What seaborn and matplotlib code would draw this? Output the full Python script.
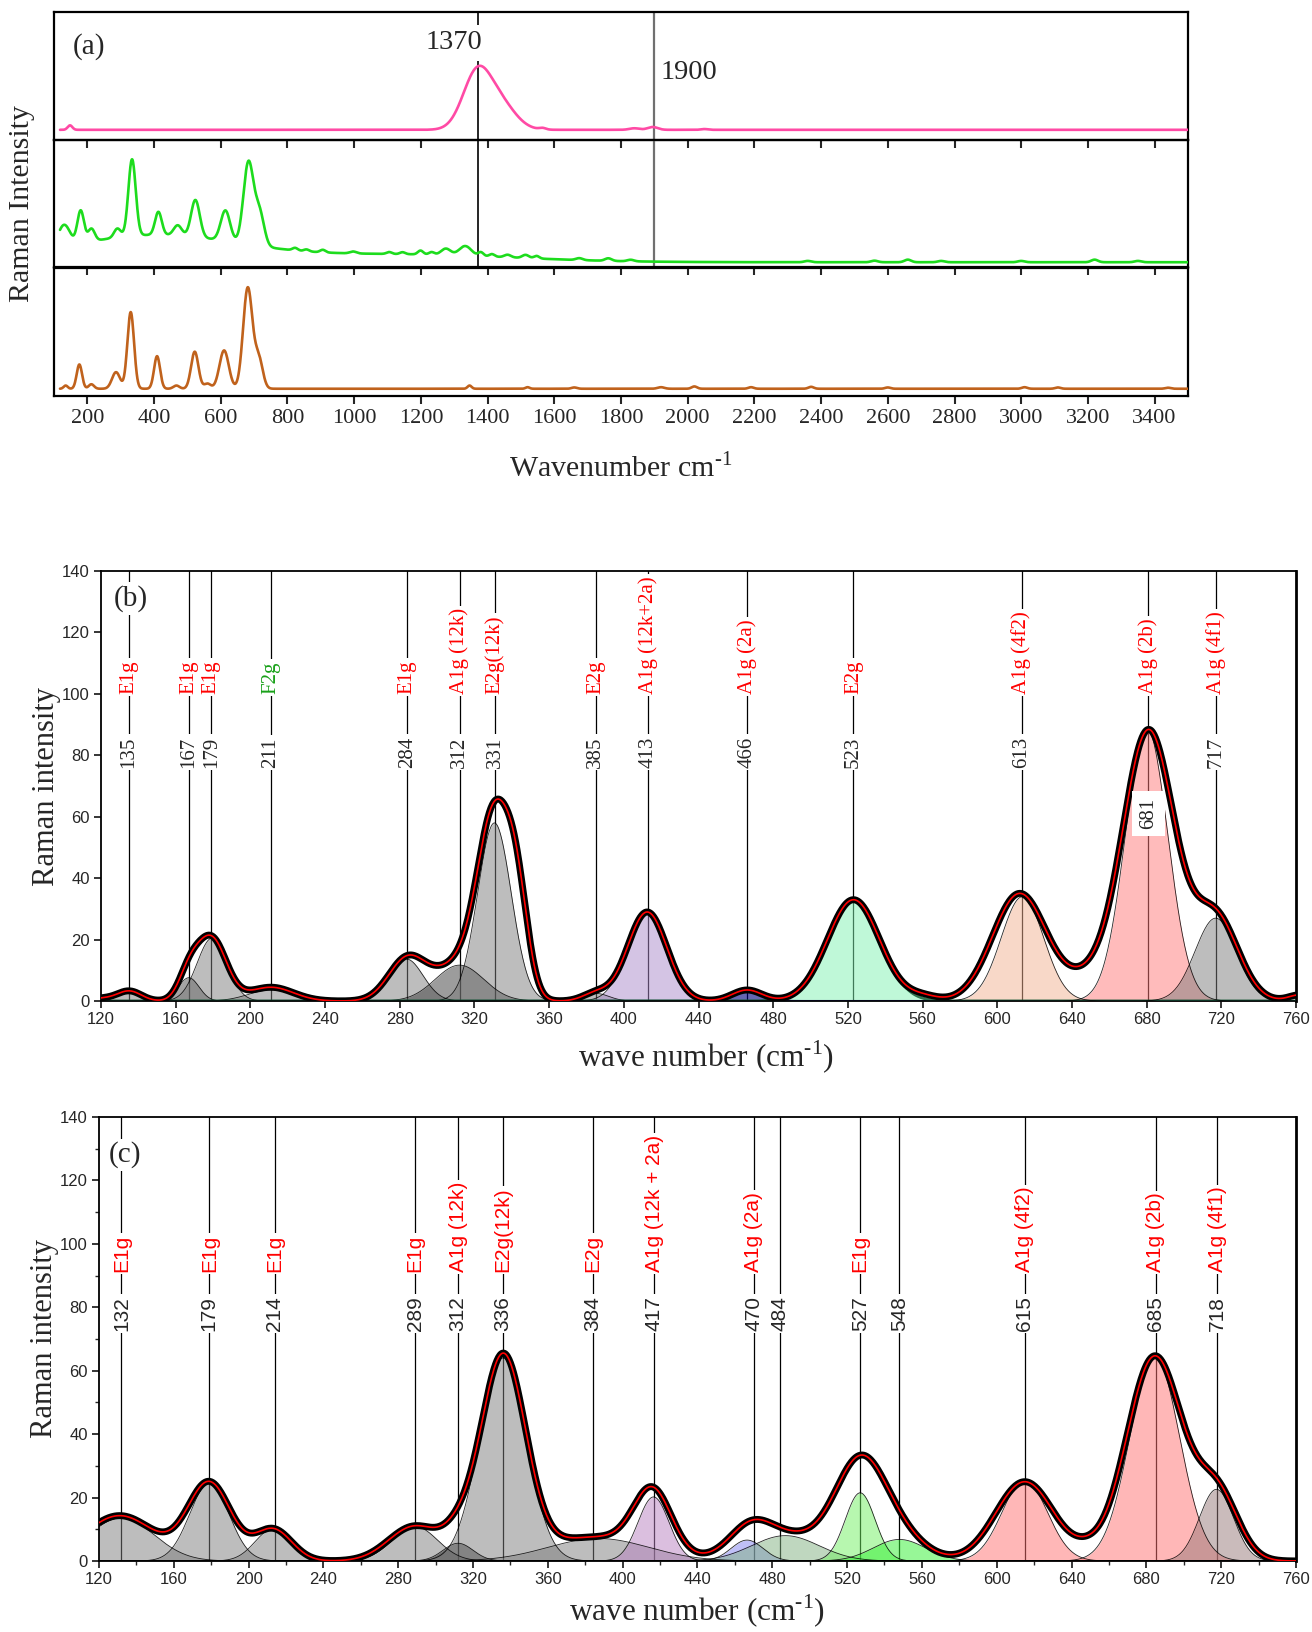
import numpy as np
import seaborn as sns
import matplotlib.pyplot as plt
from matplotlib.ticker import MultipleLocator

SERIF = ["Liberation Serif", "DejaVu Serif"]
SANS = ["Liberation Sans", "DejaVu Sans"]
NARROW = ["Liberation Sans Narrow", "Liberation Sans", "DejaVu Sans"]

# (a) survey spectra as peak tables: centre (cm-1), height (fraction of strip), sigma (cm-1)
pink_base = 0.08
pink_pos = [148, 1368, 1440, 1565, 1840, 1895, 2050]
pink_hgt = [0.035, 0.44, 0.19, 0.012, 0.012, 0.022, 0.006]
pink_wid = [7, 42, 45, 10, 15, 15, 10]

green_base = 0.04
green_pos = [400, 1150, 130, 180, 212, 290, 334, 413, 471, 524, 614, 683, 716,
             823, 857, 906, 997, 1105, 1145, 1199, 1232, 1275, 1333, 1380, 1413,
             1460, 1514, 1547, 1675, 1762, 1829, 2360, 2560, 2660, 2760, 3000, 3220, 3350]
green_hgt = [0.21, 0.06, 0.17, 0.255, 0.1, 0.07, 0.6, 0.18, 0.08, 0.29, 0.24, 0.64, 0.26,
             0.02, 0.015, 0.02, 0.015, 0.015, 0.015, 0.03, 0.02, 0.05, 0.075, 0.03, 0.02,
             0.02, 0.025, 0.02, 0.015, 0.02, 0.012, 0.01, 0.012, 0.02, 0.01, 0.01, 0.02, 0.01]
green_wid = [260, 330, 18, 10, 10, 10, 11, 10, 12, 13, 14, 15, 14,
             8, 8, 8, 10, 8, 8, 8, 8, 14, 18, 8, 8,
             10, 10, 8, 10, 10, 10, 10, 10, 10, 10, 10, 10, 10]

brown_base = 0.055
brown_pos = [135, 176, 212, 286, 330, 409, 467, 522, 560, 610, 681, 714,
             1346, 1520, 1660, 1920, 2020, 2190, 2370, 2600, 3010, 3110, 3440]
brown_hgt = [0.025, 0.19, 0.035, 0.13, 0.6, 0.255, 0.025, 0.29, 0.04, 0.3, 0.79, 0.23,
             0.025, 0.012, 0.01, 0.012, 0.018, 0.012, 0.015, 0.01, 0.012, 0.01, 0.008]
brown_wid = [6, 8, 8, 12, 10, 9, 9, 11, 10, 14, 14, 12,
             6, 6, 8, 10, 8, 8, 8, 8, 8, 8, 8]

# (b) fitted components and the measured envelope
b_pos = [135, 167, 179.5, 211, 283.5, 312, 330.7, 385, 412.5, 466, 523, 613.5, 680, 717]
b_hgt = [2.6, 7.6, 20.5, 3.6, 13.7, 11.7, 58, 2.5, 28.5, 3.4, 33, 34, 89, 27]
b_wid = [6, 5.5, 8, 12, 9, 13, 9, 7, 10.5, 8, 14, 11.4, 11.4, 11]
b_env_pos = [120, 135, 167, 179, 211, 284, 312, 331, 343, 385, 412.5, 466, 523, 560,
             612, 648, 681, 717, 762]
b_env_hgt = [0.8, 3.3, 7.6, 20.5, 4.5, 13.7, 11.7, 58, 24, 2.5, 29, 3.6, 33, 1.5,
             35, 6, 88, 27, 2]
b_env_wid = [6, 6.5, 5.5, 8, 12, 10, 13, 9, 6, 7, 10.5, 8, 14, 8,
             14.5, 12, 14, 12, 6]
b_peaks = [135, 167, 179, 211, 284, 312, 331, 385, 413, 466, 523, 613, 681, 717]
b_modes = ["E1g", "E1g", "E1g", "F2g", "E1g", "A1g (12k)", "E2g(12k)", "E2g",
           "A1g (12k+2a)", "A1g (2a)", "E2g", "A1g (4f2)", "A1g (2b)", "A1g (4f1)"]

# (c)
c_pos = [132, 179, 213, 289, 312, 336, 387, 416.5, 466.5, 487, 527, 548, 615, 684.5, 717.5]
c_hgt = [13.6, 24.5, 10.1, 10.9, 5.6, 64, 7.1, 20.2, 6.6, 8, 21.5, 6.8, 25.5, 64.6, 22.6]
c_wid = [17.5, 10.5, 9.5, 12, 8, 12.5, 27, 8.3, 8.5, 18, 8, 14, 12.1, 13.3, 9.1]
c_env_pos = [131, 179, 213, 289, 312, 336, 385, 416, 468, 487, 527, 548, 615, 648, 684.5, 718]
c_env_hgt = [14.3, 24.5, 10, 11, 5.6, 64, 7.5, 19.5, 7.5, 8, 30, 7, 25, 2, 64.5, 20.5]
c_env_wid = [19, 11.5, 10, 14, 8, 12, 27, 10, 11, 20, 13.5, 14, 15.5, 8, 15, 11]
c_peaks = [132, 179, 214, 289, 312, 336, 384, 417, 470, 484, 527, 548, 615, 685, 718]
c_modes = ["E1g", "E1g", "E1g", "E1g", "A1g (12k)", "E2g(12k)", "E2g", "A1g (12k + 2a)",
           "A1g (2a)", "", "E1g", "", "A1g (4f2)", "A1g (2b)", "A1g (4f1)"]

# fill colours and alphas
GR = "#7c7c7c"
b_fill = [GR, "#4a4a4a", GR, GR, GR, "#3a3a3a", GR, GR, "#ab8bcb", "#000080",
          "#80f2b2", "#f2b292", "#ff7878", GR]
b_alpha = [0.5] * 9 + [0.6] + [0.5] * 4
b_edge = ["black"] * 9 + ["#1a1a6e", "#145a32"] + ["black"] * 3
b_edge_w = [0.6] * 9 + [1.6, 2.2] + [0.6] * 3
c_fill = [GR, GR, GR, GR, "#1e1e1e", GR, GR, "#b980c1", "#8080f0", "#80b080",
          "#70f060", "#30f030", "#ff7070", "#ff7070", "#967878"]


def gauss_sum(x, pos, hgt, wid):
    y = np.zeros_like(x)
    for c, h, w in zip(pos, hgt, wid):
        y += h * np.exp(-0.5 * ((x - c) / w) ** 2)
    return y


sns.set_theme(style="ticks")
plt.rcParams["font.family"] = SERIF
plt.rcParams["axes.edgecolor"] = "black"
plt.rcParams["mathtext.fontset"] = "custom"
plt.rcParams["mathtext.rm"] = "Liberation Serif"

fig = plt.figure(figsize=(13.12, 16.32), dpi=100)

# ---------------- panel (a) ----------------
strip_h = 0.07825
ax_top = fig.add_axes([0.04116, 0.9142, 0.8643, strip_h])
ax_mid = fig.add_axes([0.04116, 0.8362, 0.8643, strip_h])
ax_bot = fig.add_axes([0.04116, 0.7575, 0.8643, strip_h])
xa = np.arange(118, 3501, 1.0)
strips = [(ax_top, pink_base, pink_pos, pink_hgt, pink_wid, "#ff4aa5"),
          (ax_mid, green_base, green_pos, green_hgt, green_wid, "#1ddc1d"),
          (ax_bot, brown_base, brown_pos, brown_hgt, brown_wid, "#c0621c")]
for ax, base, pos, hgt, wid, col in strips:
    ya = base + gauss_sum(xa, pos, hgt, wid)
    sns.lineplot(x=xa, y=ya, ax=ax, color=col, lw=1.9, estimator=None, sort=False, zorder=3)
    ax.set_xlim(100, 3500)
    ax.set_ylim(0, 1)
    ax.set_yticks([])
    ax.xaxis.set_major_locator(MultipleLocator(200))
    ax.tick_params(axis="x", direction="out", length=6, width=1.5, labelsize=16)
    for s in ax.spines.values():
        s.set_linewidth(1.6)
    ax.set_xlabel("")
    ax.set_ylabel("")
    if ax is not ax_bot:
        ax.tick_params(axis="x", labelbottom=False)
    ax.patch.set_alpha(0)

for ax in (ax_top, ax_mid):
    ax.axvline(1370, color="black", lw=1.2, zorder=1)
    ax.axvline(1900, color="#707070", lw=1.6, zorder=1)
ax_top.text(1300, 0.76, "1370", ha="center", va="center", fontsize=20.5,
            bbox=dict(fc="white", ec="none", pad=4), zorder=4)
ax_top.text(1918, 0.53, "1900", ha="left", va="center", fontsize=20.5, zorder=4)
ax_top.text(205, 0.73, "(a)", ha="center", va="center", fontsize=21, zorder=4)
fig.text(22 / 1312, 1 - 203 / 1632, "Raman Intensity", rotation=90, ha="center",
         va="center", fontsize=21.5)
fig.text(621 / 1312, 1 - 468 / 1632, r"Wavenumber cm$^{\text{-1}}$", ha="center",
         va="center", fontsize=21.5)


# ---------------- panels (b) and (c) ----------------
def fit_panel(rect, pos, hgt, wid, fills, alphas, edges, edge_w, env, peaks, modes,
              num_y, mode_y, lab_font, lab_size, tag, tag_xy, minor):
    ax = fig.add_axes(rect)
    x = np.linspace(120, 760, 1601)
    for p in peaks:
        ax.axvline(p, color="black", lw=0.9, zorder=1)
    for c, h, w, fc, al, ec, ew in zip(pos, hgt, wid, fills, alphas, edges, edge_w):
        yc = gauss_sum(x, [c], [h], [w])
        ax.fill_between(x, 0, yc, color=fc, alpha=al, lw=0, zorder=2)
        ax.plot(x, yc, color=ec, lw=ew, alpha=0.85, zorder=3)
    ye = gauss_sum(x, *env)
    sns.lineplot(x=x, y=ye, ax=ax, color="black", lw=5, estimator=None, sort=False, zorder=4)
    sns.lineplot(x=x, y=ye, ax=ax, color="#ff0000", lw=1.2, estimator=None, sort=False, zorder=5)
    for p, m in zip(peaks, modes):
        box = dict(fc="white", ec="none", pad=1.5)
        if tag == "(b)" and p == 681:
            ax.text(p, 61, str(p), rotation=90, ha="center", va="center", family=lab_font,
                    fontsize=lab_size, bbox=dict(fc="white", ec="none", pad=5), zorder=6)
        else:
            ax.text(p, num_y, str(p), rotation=90, ha="center", va="bottom", family=lab_font,
                    fontsize=lab_size, bbox=box, zorder=6)
        if m:
            col = "#18a018" if m == "F2g" else "#ff0000"
            ax.text(p, mode_y, m, rotation=90, ha="center", va="bottom", family=lab_font,
                    fontsize=lab_size, color=col, bbox=box, zorder=6)
    ax.text(tag_xy[0], tag_xy[1], tag, ha="center", va="center", fontsize=21,
            bbox=dict(fc="white", ec="none", pad=2), zorder=6)
    ax.set_xlim(120, 760)
    ax.set_ylim(0, 140)
    ax.xaxis.set_major_locator(MultipleLocator(40))
    ax.yaxis.set_major_locator(MultipleLocator(20))
    if minor:
        ax.xaxis.set_minor_locator(MultipleLocator(20))
        ax.yaxis.set_minor_locator(MultipleLocator(10))
        ax.tick_params(which="minor", direction="out", length=3, width=1)
    ax.tick_params(which="major", direction="out", length=5, width=1.3, labelsize=12, pad=3)
    for lab in ax.get_xticklabels() + ax.get_yticklabels():
        lab.set_family(NARROW)
    for s in ax.spines.values():
        s.set_linewidth(1.3)
    ax.spines["right"].set_linewidth(2)
    ax.set_xlabel("")
    ax.set_ylabel("")
    return ax


fit_panel([0.0770, 0.3866, 0.9108, 0.2635], b_pos, b_hgt, b_wid, b_fill, b_alpha,
          b_edge, b_edge_w, (b_env_pos, b_env_hgt, b_env_wid), b_peaks, b_modes,
          76, 100, SERIF, 15, "(b)", (135.7, 131), False)
fit_panel([0.07546, 0.0435, 0.9123, 0.2721], c_pos, c_hgt, c_wid, c_fill, [0.5] * len(c_pos),
          ["black"] * len(c_pos), [0.6] * len(c_pos),
          (c_env_pos, c_env_hgt, c_env_wid), c_peaks, c_modes, 72.6, 91, SANS, 15,
          "(c)", (134, 128), True)

fig.text(47 / 1312, 1 - 786 / 1632, "Raman intensity", rotation=90, ha="center",
         va="center", fontsize=22)
fig.text(706 / 1312, 1 - 1057 / 1632, r"wave number (cm$^{\text{-1}}$)", ha="center",
         va="center", fontsize=22.5)
fig.text(45 / 1312, 1 - 1339 / 1632, "Raman intensity", rotation=90, ha="center",
         va="center", fontsize=22)
fig.text(697 / 1312, 1 - 1611 / 1632, r"wave number (cm$^{\text{-1}}$)", ha="center",
         va="center", fontsize=22.5)

fig.savefig("out.png", dpi=100, facecolor="white")
